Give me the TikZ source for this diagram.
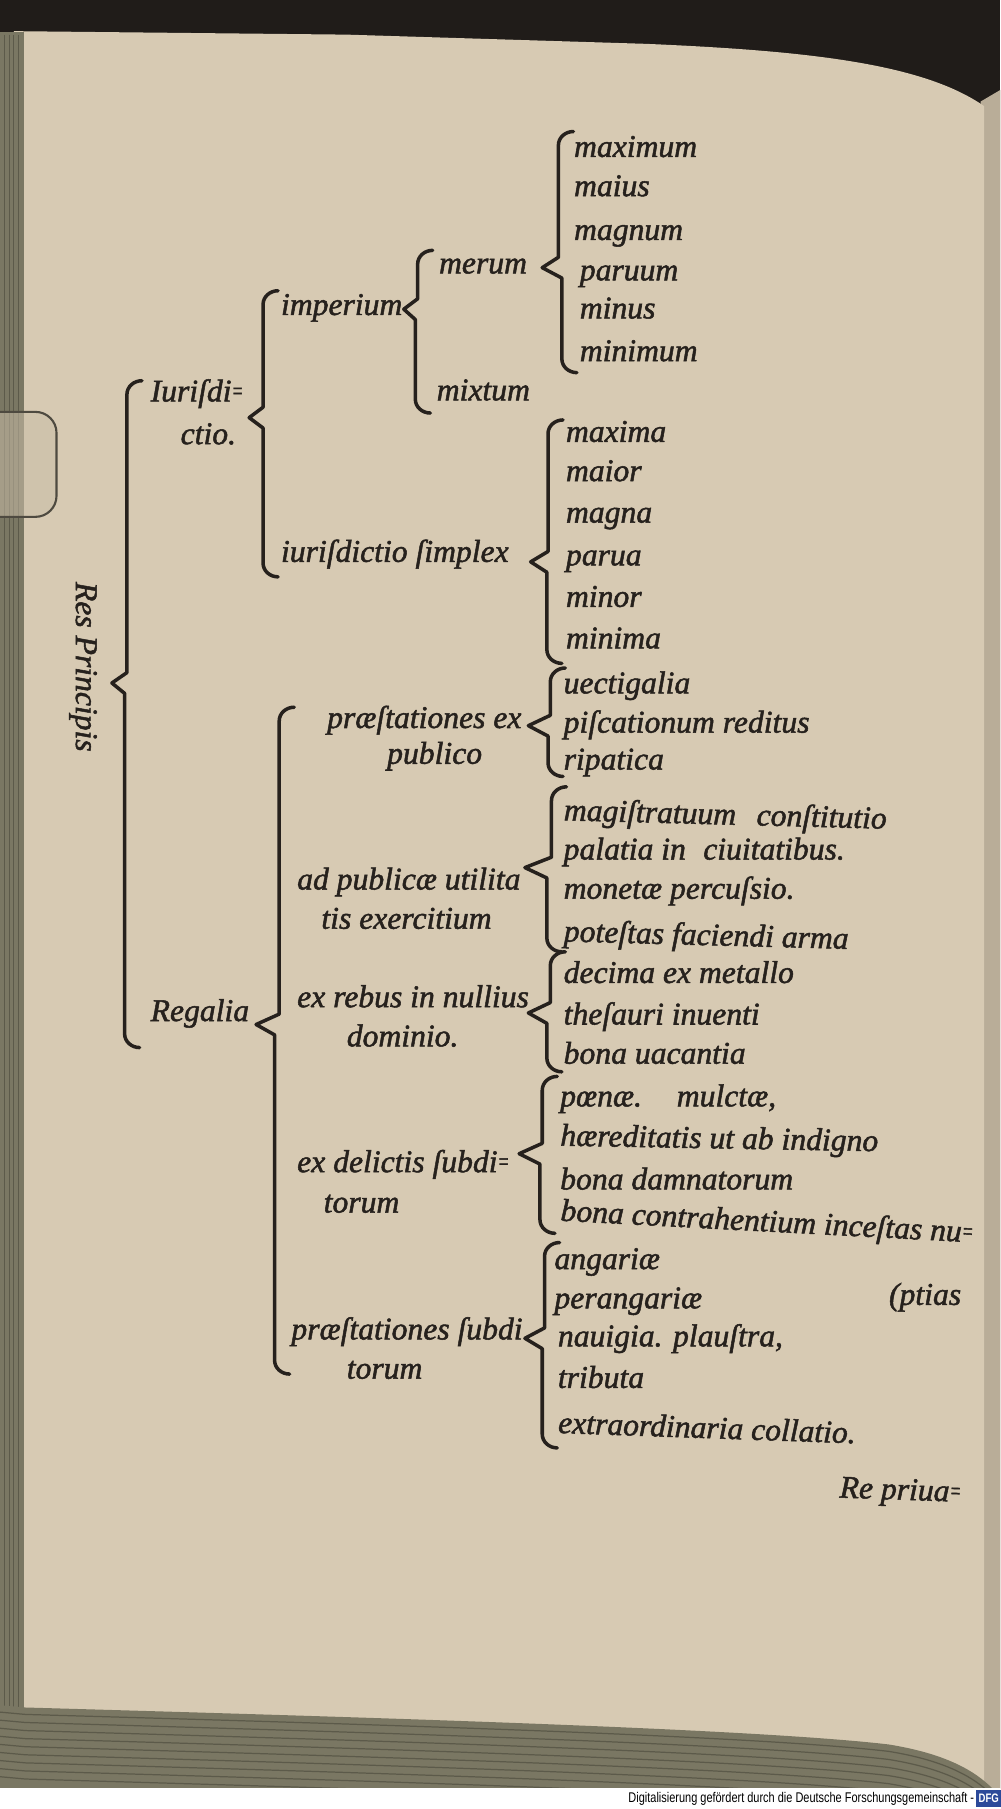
\documentclass[tikz,border=0pt]{standalone}
\usepackage{fontspec}
\usepackage{graphicx}
\usetikzlibrary{calc}
\setmainfont{Liberation Serif}[ItalicFeatures={FakeBold=1.6}]
\newfontfamily\footfont{Liberation Sans}[FakeStretch=0.78]
\definecolor{paper}{HTML}{D7CAB3}
\definecolor{ink}{HTML}{26211D}
\definecolor{bgdark}{HTML}{201C19}
\definecolor{stack}{HTML}{7A7763}
\definecolor{stackline}{HTML}{5C5A4A}
\definecolor{edgeR}{HTML}{B9AD98}
\definecolor{tabfill}{HTML}{C9BEA8}
\definecolor{tabline}{HTML}{4E4A40}
\definecolor{dfgblue}{HTML}{2C4A9A}
\newcommand\dblhy{\raisebox{0.15ex}{\scalebox{0.55}[0.8]{=}}}
\newcommand\bracedraw[1]{%
  \draw[brc] ($(#1t)+(13,-3)$) to[out=180,in=90] ($(#1t)+(0,9)$)
    -- ($(#1t|-#1c)+(0,-9)$) -- (#1c) -- ($(#1b|-#1c)+(0,9)$)
    -- ($(#1b)+(0,-9)$) to[out=-90,in=180] ($(#1b)+(13,3)$);}
\tikzset{
  lbl/.style={inner sep=0pt, anchor=base west, text=ink, font=\itshape\fontsize{9}{11}\selectfont},
  brc/.style={draw=ink, line width=1pt, line cap=round, line join=round},
  foot/.style={inner sep=0pt, text=black, font=\footfont\fontsize{4}{5}\selectfont}
}
\begin{document}
\begin{tikzpicture}[x=0.11534mm,y=-0.11534mm]
\useasboundingbox (0,0) rectangle (867,1568);
% ---------- scan background ----------
\fill[bgdark] (0,0) rectangle (867,1568);
\fill[edgeR] (850,88) -- (867,78) -- (867,1550) -- (850,1550) -- cycle;
\fill[paper] (12,27) -- (300,30) -- (560,38) .. controls (700,44) and (800,55) .. (853,92) -- (853,1550) -- (12,1550) -- cycle;
\fill[stack] (0,28) rectangle (21,1550);
\foreach \xx in {4,8,12,16} \draw[stackline, line width=0.3pt] (\xx,30) -- (\xx,1548);
\filldraw[fill=tabfill, draw=tabline, line width=0.6pt, rounded corners=6pt, fill opacity=0.55] (-30,357) rectangle (49,448);
\fill[stack] (0,1550) -- (0,1478) -- (22,1480) .. controls (300,1488) and (650,1498) .. (770,1512) .. controls (820,1520) and (845,1535) .. (860,1550) -- cycle;
\begin{scope}
  \clip (0,1550) -- (0,1478) -- (22,1480) .. controls (300,1488) and (650,1498) .. (770,1512) .. controls (820,1520) and (845,1535) .. (860,1550) -- cycle;
  \foreach \d in {6,13,20,27,34,41,48,55,62}
    \draw[stackline, line width=0.35pt, shift={(0,\d)}] (0,1478) -- (22,1480) .. controls (300,1488) and (650,1498) .. (770,1512) .. controls (820,1520) and (845,1535) .. (860,1550);
\end{scope}
\fill[white] (0,1550) rectangle (867,1568);
\node[foot, anchor=east] (foot) at (845,1559) {Digitalisierung gefördert durch die Deutsche Forschungsgemeinschaft -};
\node[fill=dfgblue, text=white, inner sep=0.6pt, font=\footfont\bfseries\fontsize{3.5}{4}\selectfont, minimum width=1.9mm, minimum height=1.7mm] (dfg) at (857,1559) {DFG};
% ---------- text ----------
\node[lbl, rotate=-90, anchor=center] (res) at (72,578) {Res Principis};
\node[lbl] (iur1) at (130,348) {Iuriſdi\dblhy};
\node[lbl] (iur2) at (156,385) {ctio.};
\node[lbl] (regalia) at (130,885) {Regalia};
\node[lbl] (imperium) at (243,273) {imperium};
\node[lbl] (simplex) at (243,487) {iuriſdictio ſimplex};
\node[lbl] (merum) at (380,237) {merum};
\node[lbl] (mixtum) at (378,347) {mixtum};
\node[lbl] (maximum) at (497,136) {maximum};
\node[lbl] (maius) at (497,170) {maius};
\node[lbl] (magnum) at (497,208) {magnum};
\node[lbl] (paruum) at (502,243) {paruum};
\node[lbl] (minus) at (502,276) {minus};
\node[lbl] (minimum) at (502,313) {minimum};
\node[lbl] (maxima) at (490,383) {maxima};
\node[lbl] (maior) at (490,417) {maior};
\node[lbl] (magna) at (490,453) {magna};
\node[lbl] (parua) at (490,490) {parua};
\node[lbl] (minor) at (490,526) {minor};
\node[lbl] (minima) at (490,562) {minima};
\node[lbl] (pexp1) at (283,631) {præſtationes ex};
\node[lbl] (pexp2) at (335,662) {publico};
\node[lbl] (uect) at (488,601) {uectigalia};
\node[lbl] (pisc) at (488,635) {piſcationum reditus};
\node[lbl] (ripa) at (488,667) {ripatica};
\node[lbl] (adpub1) at (257,771) {ad publicæ utilita};
\node[lbl] (adpub2) at (278,805) {tis exercitium};
\node[lbl, rotate=-1.5] (magis) at (488,711) {magiſtratuum\hspace{0.4em} conſtitutio};
\node[lbl] (palat) at (488,745) {palatia in\hspace{0.3em} ciuitatibus.};
\node[lbl] (monet) at (488,779) {monetæ percuſsio.};
\node[lbl, rotate=-1.5] (potes) at (488,816) {poteſtas faciendi arma};
\node[lbl] (exreb1) at (257,873) {ex rebus in nullius};
\node[lbl] (exreb2) at (300,907) {dominio.};
\node[lbl] (decim) at (488,852) {decima ex metallo};
\node[lbl] (thes) at (488,888) {theſauri inuenti};
\node[lbl] (bonau) at (488,922) {bona uacantia};
\node[lbl] (exdel1) at (257,1016) {ex delictis ſubdi\dblhy};
\node[lbl] (exdel2) at (280,1051) {torum};
\node[lbl] (poena) at (485,959) {pœnæ.\hspace{1.1em}mulctæ,};
\node[lbl, rotate=-1] (haered) at (485,993) {hæreditatis ut ab indigno};
\node[lbl] (damn) at (485,1031) {bona damnatorum};
\node[lbl, rotate=-3] (contr) at (485,1058) {bona contrahentium inceſtas nu\dblhy};
\node[lbl] (ptias) at (770,1131) {(ptias};
\node[lbl] (pst1) at (252,1161) {præſtationes ſubdi};
\node[lbl] (pst2) at (300,1195) {torum};
\node[lbl] (angar) at (480,1100) {angariæ};
\node[lbl] (perang) at (480,1134) {perangariæ};
\node[lbl] (nauig) at (483,1167) {nauigia. plauſtra,};
\node[lbl] (tribut) at (483,1203) {tributa};
\node[lbl, rotate=-2] (extra) at (483,1242) {extraordinaria collatio.};
\node[lbl, rotate=-2] (repriu) at (727,1298) {Re priua\dblhy};
% ---------- braces ----------
\coordinate (b0t) at (110,333); \coordinate (b0c) at (97,592);  \coordinate (b0b) at (108,905);
\coordinate (b1t) at (228,255); \coordinate (b1c) at (216,362); \coordinate (b1b) at (228,497);
\coordinate (b2t) at (362,220); \coordinate (b2c) at (350,268); \coordinate (b2b) at (360,355);
\coordinate (b3t) at (484,117); \coordinate (b3c) at (470,232); \coordinate (b3b) at (487,320);
\coordinate (b4t) at (475,367); \coordinate (b4c) at (460,487); \coordinate (b4b) at (474,572);
\coordinate (b5t) at (242,616); \coordinate (b5c) at (222,888); \coordinate (b5b) at (238,1188);
\coordinate (b6t) at (477,582); \coordinate (b6c) at (458,629); \coordinate (b6b) at (475,670);
\coordinate (b7t) at (478,685); \coordinate (b7c) at (455,752); \coordinate (b7b) at (474,822);
\coordinate (b8t) at (477,828); \coordinate (b8c) at (458,878); \coordinate (b8b) at (474,926);
\coordinate (b9t) at (470,936); \coordinate (b9c) at (450,1000); \coordinate (b9b) at (468,1066);
\coordinate (b10t) at (472,1080); \coordinate (b10c) at (455,1160); \coordinate (b10b) at (470,1252);
\foreach \bb in {b0,b1,b2,b3,b4,b5,b6,b7,b8,b9,b10} {\bracedraw{\bb}}
\end{tikzpicture}
\end{document}
